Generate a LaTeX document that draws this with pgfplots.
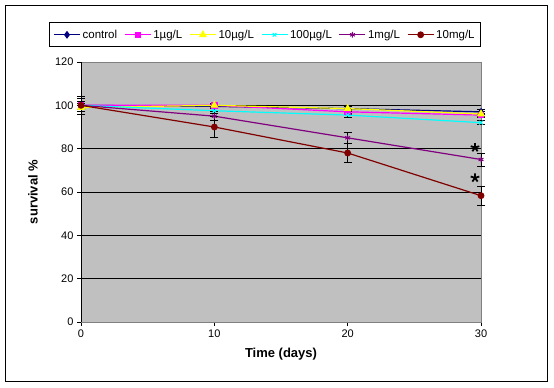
\documentclass[border=0pt]{standalone}
\usepackage{pgfplots}
\pgfplotsset{compat=1.18}
\usepackage{fontspec}
\setmainfont{Liberation Sans}
\definecolor{navyc}{RGB}{0,0,128}
\definecolor{magc}{RGB}{255,0,255}
\definecolor{yelc}{RGB}{255,255,0}
\definecolor{cyac}{RGB}{0,255,255}
\definecolor{purc}{RGB}{128,0,128}
\definecolor{drc}{RGB}{128,0,0}
\definecolor{bgc}{RGB}{192,192,192}
\begin{document}
\begin{tikzpicture}[x=1bp,y=1bp]
\useasboundingbox (0,0) rectangle (554,387);
\draw[black, line width=1bp] (5.5,5.5) rectangle (547.5,381.5);
\begin{axis}[
  at={(81bp,65bp)}, anchor=south west,
  scale only axis, width=400bp, height=260bp,
  xmin=0, xmax=30, ymin=0, ymax=120,
  xtick={0,10,20,30}, ytick={0,20,...,120},
  xtick pos=bottom, ytick pos=left,
  tick align=outside, major tick length=4bp,
  tick style={black, line width=0.8bp},
  axis background/.style={fill=bgc},
  axis line style={draw=gray, line width=0.8bp},
  ymajorgrids, major grid style={black, line width=0.8bp},
  clip=false,
  /pgf/number format/assume math mode=true,
  ticklabel style={font=\fontsize{11bp}{13bp}\selectfont},
  xlabel={\textbf{Time (days)}},
  ylabel={\textbf{survival \%}},
  label style={font=\fontsize{13bp}{15bp}\selectfont},
  xlabel style={at={(axis description cs:0.5,-0.123)}, anchor=center},
  ylabel style={at={(axis description cs:-0.12,0.5)}, anchor=center},
  legend columns=6,
  legend style={at={(axis description cs:0.46,1.152)}, anchor=north,
    draw=black, fill=white, line width=0.8bp,
    font=\fontsize{11.5bp}{13bp}\selectfont,
    inner xsep=4bp, inner ysep=5bp,
    /tikz/every even column/.append style={column sep=5bp}},
  legend cell align=left,
  legend image code/.code={\draw[#1, line width=1.2bp, mark repeat=2, mark phase=2] plot coordinates {(0bp,0bp)(13bp,0bp)(26bp,0bp)};},
]
\pgfplotsset{every axis plot/.append style={
  error bars/y dir=both, error bars/y explicit,
  error bars/error bar style={black, line width=0.8bp},
  error bars/error mark options={black, rotate=90, mark size=4bp, line width=0.8bp}}}
\addplot[navyc, line width=1.2bp, mark=diamond*, mark size=3bp, mark options={fill=navyc, draw=navyc}]
  table[x=x, y=y, y error=e] {
x y e
0 100 2
10 99.5 1
20 98.5 1
30 97 1
};
\addlegendentry{control}
\addplot[magc, line width=1.2bp, mark=square*, mark size=2.6bp, mark options={fill=magc, draw=magc}]
  table[x=x, y=y, y error=e] {
x y e
0 100 2
10 100 1
20 97 1
30 95.5 1
};
\addlegendentry{1µg/L}
\addplot[yelc, line width=1.2bp, mark=triangle*, mark size=3.5bp, mark options={fill=yelc, draw=yelc}]
  table[x=x, y=y, y error=e] {
x y e
0 99 2
10 100 1
20 98.5 1.5
30 96 1
};
\addlegendentry{10µg/L}
\addplot[cyac, line width=1.2bp, mark=x, mark size=2.6bp, mark options={draw=cyac, line width=1bp}]
  table[x=x, y=y, y error=e] {
x y e
0 100 2
10 97.5 1
20 95.5 1
30 92 1
};
\addlegendentry{100µg/L}
\addplot[purc, line width=1.2bp, mark=asterisk, mark size=2.8bp, mark options={draw=purc, line width=1bp}]
  table[x=x, y=y, y error=e] {
x y e
0 100 3
10 95 2
20 85 2.7
30 75 3
};
\addlegendentry{1mg/L}
\addplot[drc, line width=1.2bp, mark=*, mark size=2.8bp, mark options={fill=drc, draw=drc}]
  table[x=x, y=y, y error=e] {
x y e
0 100 4
10 90 5
20 78 4.5
30 58.3 4.3
};
\addlegendentry{10mg/L}
\addplot[forget plot, only marks, black, mark=star, mark size=4.5bp, mark options={line width=1.8bp}, error bars/y dir=none]
  coordinates {(29.55,80.5) (29.55,66.5)};
\draw[black, line width=1bp] (rel axis cs:0,0) -- (rel axis cs:0,1);
\end{axis}
\end{tikzpicture}
\end{document}
